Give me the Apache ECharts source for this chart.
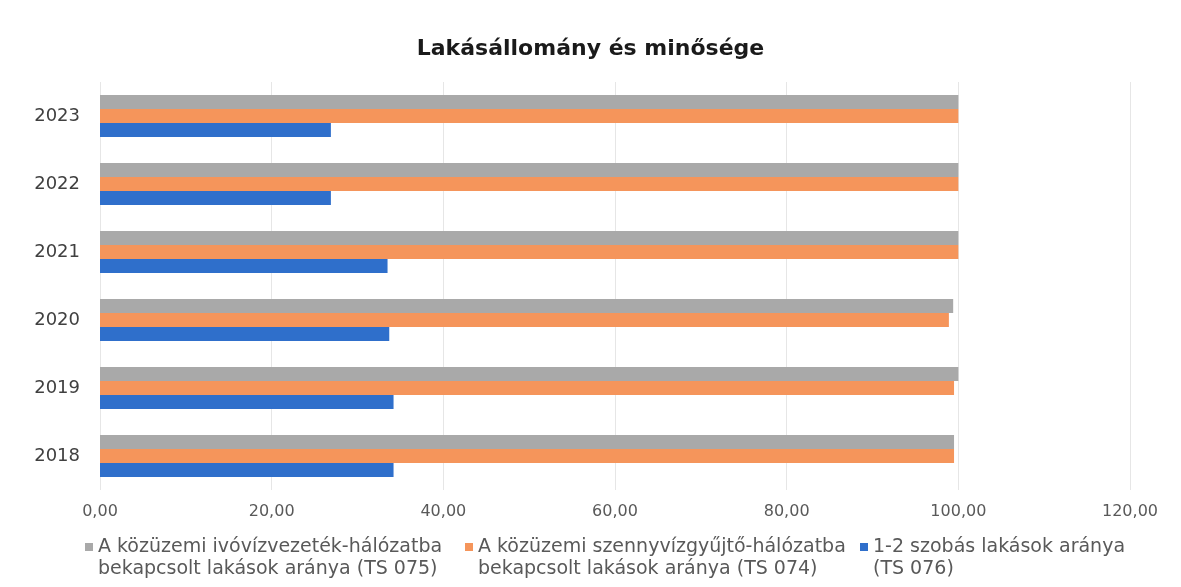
<!DOCTYPE html>
<html>
<head>
<meta charset="utf-8">
<script src="https://cdn.jsdelivr.net/npm/echarts@6/dist/echarts.min.js"></script>
<style>
  html, body { margin: 0; padding: 0; background: #fff; }
  #chart { width: 1181px; height: 587px; }
</style>
</head>
<body>
<div id="chart"></div>
<script>
// évek (kategóriák)
const years = ['2018', '2019', '2020', '2021', '2022', '2023']
// TS 075 - ivóvíz
const ivoviz = [99.5, 100.0, 99.4, 100.0, 100.0, 100.0]
// TS 074 - szennyvíz
const szennyviz = [99.5, 99.5, 98.9, 100.0, 100.0, 100.0]
// TS 076 - 1-2 szobás
const szobas = [34.2, 34.2, 33.7, 33.5, 26.9, 26.9]

const names = [
  'A közüzemi ivóvízvezeték-hálózatba\nbekapcsolt lakások aránya (TS 075)',
  'A közüzemi szennyvízgyűjtő-hálózatba\nbekapcsolt lakások aránya (TS 074)',
  '1-2 szobás lakások aránya\n(TS 076)'
]
const colors = ['#A9A9A9', '#F5955B', '#2F6FCB']

const chart = echarts.init(document.getElementById('chart'))

// egy jelmagyarázat elem, a négyzet az első sorhoz igazítva
function legendItem(name, left) {
  return {
    data: [{ name: name }],
    left: left,
    top: 531,
    icon: 'path://M0,0L8,0L8,8L0,8Z M0,30L8,30',
    itemWidth: 8,
    itemHeight: 30,
    selectedMode: false,
    textStyle: {
      color: '#595959',
      fontFamily: 'DejaVu Sans',
      fontSize: 19,
      lineHeight: 22
    }
  }
}

const option = {
  backgroundColor: '#fff',
  animation: false,
  title: {
    text: 'Lakásállomány és minősége',
    left: 'center',
    top: 33,
    textStyle: {
      fontFamily: 'DejaVu Sans',
      fontWeight: 'bold',
      fontSize: 22,
      color: '#1a1a1a'
    }
  },
  legend: [
    legendItem(names[0], 80),
    legendItem(names[1], 460),
    legendItem(names[2], 855)
  ],
  grid: {
    left: 100,
    right: 51,
    top: 82,
    bottom: 97
  },
  xAxis: {
    type: 'value',
    min: 0,
    max: 120,
    interval: 20,
    axisLine: { show: false },
    axisTick: { show: false },
    splitLine: { show: true, lineStyle: { color: '#E6E6E6' } },
    axisLabel: {
      margin: 14,
      color: '#595959',
      fontFamily: 'DejaVu Sans',
      fontSize: 16,
      formatter: v => v.toFixed(2).replace('.', ',')
    }
  },
  yAxis: {
    type: 'category',
    data: years,
    axisLine: { show: false },
    axisTick: { show: false },
    axisLabel: {
      margin: 20,
      color: '#404040',
      fontFamily: 'DejaVu Sans',
      fontSize: 18
    }
  },
  series: [
    {
      name: names[0],
      type: 'bar',
      data: ivoviz,
      barWidth: 14,
      barGap: '0%',
      itemStyle: { color: colors[0] }
    },
    {
      name: names[1],
      type: 'bar',
      data: szennyviz,
      barWidth: 14,
      barGap: '0%',
      itemStyle: { color: colors[1] }
    },
    {
      name: names[2],
      type: 'bar',
      data: szobas,
      barWidth: 14,
      barGap: '0%',
      itemStyle: { color: colors[2] }
    }
  ]
}

chart.setOption(option)
</script>
</body>
</html>
